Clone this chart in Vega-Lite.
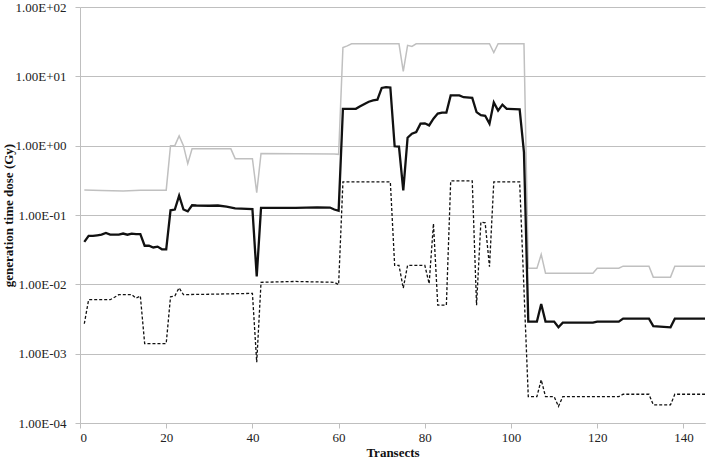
{
  "$schema": "https://vega.github.io/schema/vega-lite/v6.json",
  "width": 625,
  "height": 416,
  "autosize": "none",
  "padding": {"left": 80, "top": 7, "right": 3, "bottom": 40},
  "background": "white",
  "config": {"view": {"stroke": null}, "font": "Liberation Serif"},
  "datasets": {
    "G": [
      {"t":1,"v":0.23},{"t":5,"v":0.225},{"t":10,"v":0.222},{"t":14,"v":0.228},{"t":20,"v":0.228},
      {"t":21,"v":1.0},{"t":22,"v":1.0},{"t":23,"v":1.38},{"t":24,"v":1.0},{"t":25,"v":0.55},
      {"t":26,"v":0.9},{"t":35,"v":0.9},{"t":36,"v":0.65},{"t":40,"v":0.65},{"t":41,"v":0.21},
      {"t":42,"v":0.77},{"t":59,"v":0.76},{"t":60,"v":0.75},{"t":61,"v":26},{"t":62,"v":27.5},
      {"t":63,"v":29.5},{"t":74,"v":29.5},{"t":75,"v":11.8},{"t":76,"v":28},{"t":77,"v":27},
      {"t":78,"v":29.5},{"t":95,"v":29.5},{"t":96,"v":22},{"t":97,"v":29.5},{"t":103,"v":29.5},
      {"t":104,"v":0.017},{"t":106,"v":0.017},{"t":107,"v":0.027},{"t":108,"v":0.0145},{"t":119,"v":0.0145},
      {"t":120,"v":0.0171},{"t":125,"v":0.0171},{"t":126,"v":0.0183},{"t":132,"v":0.0183},{"t":133,"v":0.0127},
      {"t":137,"v":0.0127},{"t":138,"v":0.0183},{"t":145,"v":0.0183}
    ],
    "M": [
      {"t":1,"v":0.041},{"t":2,"v":0.05},{"t":3,"v":0.05},{"t":4,"v":0.051},{"t":5,"v":0.052},
      {"t":6,"v":0.055},{"t":7,"v":0.052},{"t":8,"v":0.052},{"t":9,"v":0.052},{"t":10,"v":0.054},
      {"t":11,"v":0.052},{"t":12,"v":0.054},{"t":13,"v":0.053},{"t":14,"v":0.053},{"t":15,"v":0.036},
      {"t":16,"v":0.036},{"t":17,"v":0.034},{"t":18,"v":0.035},{"t":19,"v":0.032},{"t":20,"v":0.032},
      {"t":21,"v":0.117},{"t":22,"v":0.12},{"t":23,"v":0.19},{"t":24,"v":0.12},{"t":25,"v":0.113},
      {"t":26,"v":0.138},{"t":27,"v":0.137},{"t":30,"v":0.136},{"t":32,"v":0.137},{"t":34,"v":0.132},
      {"t":36,"v":0.125},{"t":40,"v":0.122},{"t":41,"v":0.013},{"t":42,"v":0.127},{"t":50,"v":0.127},
      {"t":55,"v":0.129},{"t":58,"v":0.128},{"t":59,"v":0.12},{"t":60,"v":0.115},{"t":61,"v":3.4},
      {"t":64,"v":3.4},{"t":65,"v":3.7},{"t":66,"v":4.0},{"t":67,"v":4.3},{"t":68,"v":4.5},
      {"t":69,"v":4.6},{"t":70,"v":6.8},{"t":71,"v":7.0},{"t":72,"v":6.9},{"t":73,"v":0.98},
      {"t":74,"v":0.97},{"t":75,"v":0.226},{"t":76,"v":1.3},{"t":77,"v":1.49},{"t":78,"v":1.57},
      {"t":79,"v":2.08},{"t":80,"v":2.1},{"t":81,"v":1.96},{"t":82,"v":2.45},{"t":83,"v":2.9},
      {"t":84,"v":3.0},{"t":85,"v":3.0},{"t":86,"v":5.3},{"t":88,"v":5.3},{"t":89,"v":5.0},
      {"t":91,"v":4.9},{"t":92,"v":3.05},{"t":93,"v":2.75},{"t":94,"v":2.7},{"t":95,"v":2.08},
      {"t":96,"v":4.2},{"t":97,"v":3.2},{"t":98,"v":3.9},{"t":99,"v":3.4},{"t":102,"v":3.35},
      {"t":103,"v":0.8},{"t":104,"v":0.0029},{"t":106,"v":0.0029},{"t":107,"v":0.0052},{"t":108,"v":0.0029},
      {"t":110,"v":0.0029},{"t":111,"v":0.0024},{"t":112,"v":0.0028},{"t":119,"v":0.0028},{"t":120,"v":0.0029},
      {"t":125,"v":0.0029},{"t":126,"v":0.0032},{"t":132,"v":0.0032},{"t":133,"v":0.0025},{"t":137,"v":0.0024},
      {"t":138,"v":0.0032},{"t":145,"v":0.0032}
    ],
    "L": [
      {"t":1,"v":0.0027},{"t":2,"v":0.006},{"t":7,"v":0.006},{"t":8,"v":0.0065},{"t":9,"v":0.0071},
      {"t":12,"v":0.0071},{"t":13,"v":0.0063},{"t":14,"v":0.0068},{"t":15,"v":0.0014},{"t":20,"v":0.0014},
      {"t":21,"v":0.0066},{"t":22,"v":0.0068},{"t":23,"v":0.0089},{"t":24,"v":0.0071},{"t":30,"v":0.0072},
      {"t":35,"v":0.0073},{"t":40,"v":0.0074},{"t":41,"v":0.00075},{"t":42,"v":0.0107},{"t":50,"v":0.011},
      {"t":59,"v":0.0107},{"t":60,"v":0.0099},{"t":61,"v":0.3},{"t":72,"v":0.3},{"t":73,"v":0.0188},
      {"t":74,"v":0.0188},{"t":75,"v":0.0088},{"t":76,"v":0.0188},{"t":80,"v":0.0188},{"t":81,"v":0.0102},
      {"t":82,"v":0.075},{"t":83,"v":0.005},{"t":85,"v":0.005},{"t":86,"v":0.31},{"t":91,"v":0.31},
      {"t":92,"v":0.005},{"t":93,"v":0.079},{"t":94,"v":0.077},{"t":95,"v":0.018},{"t":96,"v":0.3},
      {"t":102,"v":0.3},{"t":103,"v":0.0085},{"t":104,"v":0.00024},{"t":106,"v":0.00024},{"t":107,"v":0.00042},
      {"t":108,"v":0.00024},{"t":110,"v":0.00024},{"t":111,"v":0.000173},{"t":112,"v":0.00024},{"t":125,"v":0.00024},
      {"t":126,"v":0.00026},{"t":132,"v":0.00026},{"t":133,"v":0.000183},{"t":137,"v":0.000183},{"t":138,"v":0.00026},
      {"t":145,"v":0.00026}
    ]
  },
  "encoding": {
    "x": {
      "field": "t", "type": "quantitative",
      "scale": {"domain": [0, 145], "nice": false, "zero": false},
      "axis": {
        "values": [0, 20, 40, 60, 80, 100, 120, 140],
        "title": "Transects", "grid": false,
        "domainColor": "#bfbfbf", "tickColor": "#bfbfbf", "tickSize": 5,
        "labelFontSize": 13, "labelColor": "#222222", "labelPadding": 3,
        "titleFontSize": 13, "titleFontWeight": "bold", "titleColor": "#111111", "titlePadding": 2
      }
    },
    "y": {
      "field": "v", "type": "quantitative",
      "scale": {"type": "log", "domain": [0.0001, 100]},
      "axis": {
        "values": [0.0001, 0.001, 0.01, 0.1, 1, 10, 100],
        "labelExpr": "'1.00E' + (datum.value >= 1 ? '+' : '-') + '0' + format(abs(round(log(datum.value)/LN10)), 'd')",
        "title": "generation time dose (Gy)",
        "grid": true, "gridColor": "#bfbfbf", "gridWidth": 1,
        "domainColor": "#bfbfbf", "tickColor": "#bfbfbf", "tickSize": 5,
        "labelFontSize": 13, "labelColor": "#222222", "labelPadding": 9,
        "titleFontSize": 13, "titleFontWeight": "bold", "titleColor": "#111111",
        "titleX": -72, "titleY": 208, "titleAngle": 270, "titleAlign": "center", "titleBaseline": "middle"
      }
    }
  },
  "layer": [
    {"data": {"name": "G"}, "mark": {"type": "line", "color": "#c0c0c0", "strokeWidth": 1.5}},
    {"data": {"name": "L"}, "mark": {"type": "line", "color": "#111111", "strokeWidth": 1.3, "strokeDash": [3, 2]}},
    {"data": {"name": "M"}, "mark": {"type": "line", "color": "#111111", "strokeWidth": 2.3}}
  ]
}
